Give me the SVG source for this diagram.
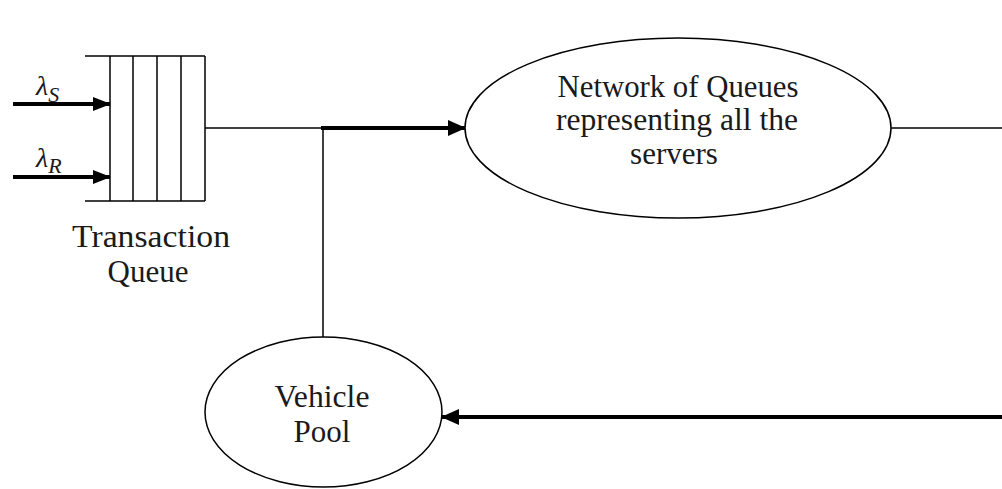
<svg xmlns="http://www.w3.org/2000/svg" width="1002" height="489" viewBox="0 0 1002 489">
  <style>
    .thin { stroke: #000; stroke-width: 1.5; fill: none; }
    .thick { stroke: #000; stroke-width: 4; fill: none; }
    .shape { stroke: #000; stroke-width: 1.5; fill: #fff; }
    .label { font-family: "Liberation Serif", "Times New Roman", serif; font-size: 31px; fill: #1a1a1a; text-anchor: middle; }
    .sym { font-family: "Liberation Serif", "Times New Roman", serif; font-style: italic; fill: #1a1a1a; }
  </style>
  <defs>
    <marker id="head" markerUnits="userSpaceOnUse" markerWidth="18" markerHeight="16" refX="17" refY="8" orient="auto">
      <path d="M0,0 L18,8 L0,16 Z" fill="#000"/>
    </marker>
    <marker id="headSmall" markerUnits="userSpaceOnUse" markerWidth="18" markerHeight="14" refX="17" refY="7" orient="auto">
      <path d="M0,0 L18,7 L0,14 Z" fill="#000"/>
    </marker>
  </defs>
  <rect width="1002" height="489" fill="#fff"/>

  <!-- transaction queue: open-ended buffer with four slots -->
  <g id="transaction-queue">
    <line class="thin" x1="85" y1="56" x2="205" y2="56"/>
    <line class="thin" x1="85" y1="201" x2="205" y2="201"/>
    <line class="thin" x1="110" y1="56" x2="110" y2="201"/>
    <line class="thin" x1="133" y1="56" x2="133" y2="201"/>
    <line class="thin" x1="157" y1="56" x2="157" y2="201"/>
    <line class="thin" x1="181" y1="56" x2="181" y2="201"/>
    <line class="thin" x1="205" y1="56" x2="205" y2="201"/>
    <text class="label" x="151" y="247" textLength="158" lengthAdjust="spacingAndGlyphs">Transaction</text>
    <text class="label" x="148" y="282">Queue</text>
  </g>

  <!-- server network -->
  <g id="server-network">
    <ellipse class="shape" cx="678" cy="128" rx="213" ry="90"/>
    <text class="label" x="678" y="97" textLength="241" lengthAdjust="spacingAndGlyphs">Network of Queues</text>
    <text class="label" x="677" y="130" textLength="242" lengthAdjust="spacingAndGlyphs">representing all the</text>
    <text class="label" x="674" y="164">servers</text>
  </g>

  <!-- vehicle pool -->
  <g id="vehicle-pool">
    <ellipse class="shape" cx="323.5" cy="412" rx="118.5" ry="75"/>
    <text class="label" x="322" y="407" textLength="95" lengthAdjust="spacingAndGlyphs">Vehicle</text>
    <text class="label" x="322" y="442">Pool</text>
  </g>

  <!-- arrival rates -->
  <g id="arrivals">
    <text class="sym" x="36" y="95" font-size="28">λ<tspan font-size="22" dy="7">S</tspan></text>
    <text class="sym" x="36" y="167" font-size="28">λ<tspan font-size="22" dy="6">R</tspan></text>
  </g>

  <g id="connectors">
    <line class="thick" x1="13" y1="104" x2="110" y2="104" marker-end="url(#headSmall)"/>
    <line class="thick" x1="13" y1="177" x2="110" y2="177" marker-end="url(#headSmall)"/>
    <line class="thin" x1="205" y1="128" x2="323" y2="128"/>
    <line class="thick" x1="321" y1="128" x2="465" y2="128" marker-end="url(#head)"/>
    <line class="thin" x1="323" y1="128" x2="323" y2="337"/>
    <line class="thin" x1="891" y1="128" x2="1002" y2="128"/>
    <line class="thick" x1="1002" y1="417" x2="442" y2="417" marker-end="url(#head)"/>
  </g>
</svg>
